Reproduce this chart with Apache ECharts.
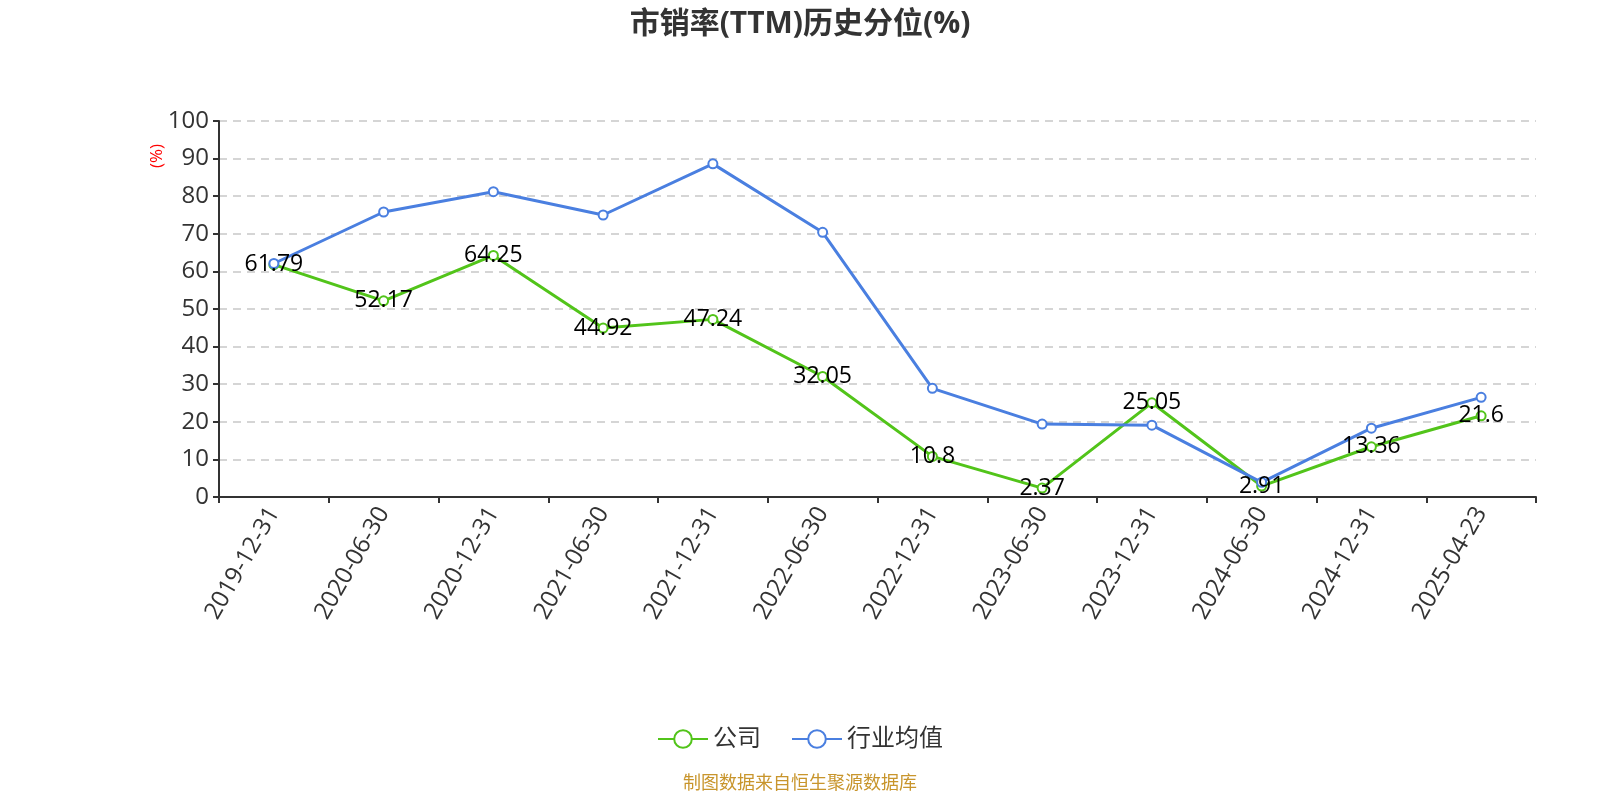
<!DOCTYPE html>
<html><head><meta charset="utf-8">
<script src="https://cdn.jsdelivr.net/npm/echarts@6/dist/echarts.min.js"></script>
<style>html,body{margin:0;padding:0;background:#fff}#c{width:1600px;height:800px}</style>
</head><body><div id="c"></div>
<script>
const categories = ['2019-12-31','2020-06-30','2020-12-31','2021-06-30','2021-12-31','2022-06-30','2022-12-31','2023-06-30','2023-12-31','2024-06-30','2024-12-31','2025-04-23'];
const companyValues = [61.79,52.17,64.25,44.92,47.24,32.05,10.8,2.37,25.05,2.91,13.36,21.6];
const industryValues = [62.1,75.8,81.2,75.0,88.6,70.4,28.9,19.4,19.1,3.9,18.3,26.5];
const yTicks = [0,10,20,30,40,50,60,70,80,90,100];
const FONT = '"Open Sans", "Noto Sans CJK SC", sans-serif';
const chart = echarts.init(document.getElementById('c'));
chart.setOption({
  animation:false,
  textStyle:{fontFamily:FONT},
  title:{text:'市销率(TTM)历史分位(%)',left:'center',top:4,textStyle:{fontSize:30,fontWeight:'bold',color:'#333',fontFamily:FONT}},
  grid:{left:219,right:64,top:121,bottom:303},
  legend:{bottom:44,left:'center',itemWidth:50,itemHeight:22,itemGap:30,textStyle:{fontSize:24,color:'#333',fontFamily:FONT},data:['公司','行业均值']},
  graphic:[
    {type:'text',left:'center',top:775,style:{text:'制图数据来自恒生聚源数据库',fill:'#c8952c',fontSize:18,fontFamily:FONT}},
    {type:'text',x:149,y:168,rotation:Math.PI/2,style:{text:'(%)',fill:'#ff0000',fontSize:17,fontFamily:FONT}}
  ],
  xAxis:{type:'category',data:categories,boundaryGap:true,
    axisLine:{lineStyle:{color:'#333',width:2}},
    axisTick:{show:true,length:6,lineStyle:{color:'#333',width:2}},
    axisLabel:{rotate:60,fontSize:24,color:'#333',margin:12,interval:0,fontFamily:FONT}},
  yAxis:{type:'value',min:yTicks[0],max:yTicks[yTicks.length-1],interval:10,
    axisLine:{show:true,lineStyle:{color:'#333',width:2}},
    axisTick:{show:true,length:6,lineStyle:{color:'#333',width:2}},
    axisLabel:{fontSize:24,color:'#333',margin:10,fontFamily:FONT},
    splitLine:{lineStyle:{type:[8,6],color:'#c8c8c8',width:1.5}}},
  series:[
    {name:'公司',type:'line',data:companyValues,symbol:'emptyCircle',symbolSize:9,
     itemStyle:{color:'#52c41a'},lineStyle:{width:3,color:'#52c41a'},
     label:{show:true,position:'inside',color:'#000',fontSize:23,fontFamily:FONT}},
    {name:'行业均值',type:'line',data:industryValues,symbol:'emptyCircle',symbolSize:9,
     itemStyle:{color:'#4a7fe0'},lineStyle:{width:3,color:'#4a7fe0'}}
  ]
});
</script></body></html>
